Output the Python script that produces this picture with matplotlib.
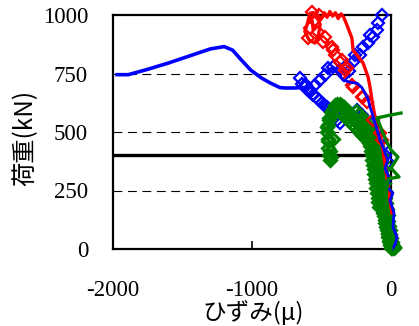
import matplotlib
matplotlib.use("Agg")
from matplotlib import pyplot as plt

plt.rcParams['axes.unicode_minus'] = False

# strain (micro) / load (kN)
blue_line_x = [-1970, -1890, -1750, -1600, -1450, -1300, -1200, -1140, -1080, -1010, -930, -870, -800, -760, -700, -640]
blue_line_y = [745, 745, 768, 795, 825, 855, 865, 850, 810, 765, 730, 710, 690, 688, 688, 690]

blue_line2_x = [-460, -417, -345, -290, -245, -210, -187, -165, -151, -130, -115, -95, -79, -60, -43, -22, -43, -25, -7, -29, 14, -7, 22, 14, 43, 30, 10]
blue_line2_y = [760, 778, 722, 712, 709, 690, 667, 640, 607, 570, 538, 500, 466, 440, 410, 380, 346, 320, 295, 265, 239, 209, 154, 94, 51, 20, 0]

blue_dia_x = [-370, -385, -400, -420, -440, -460, -480, -500, -520, -540, -560, -580, -600, -620, -640, -655, -610, -583, -547, -511, -475, -453, -417, -367, -317, -273, -223, -201, -165, -130, -101, -94, -65,
              -259, -151, -245, -209, -150, -110, -80, -60, -40, -20, -300, -340]
blue_dia_y = [538, 550, 565, 580, 594, 605, 615, 626, 637, 648, 660, 670, 680, 692, 705, 731, 700, 679, 701, 722, 744, 774, 778, 765, 786, 799, 829, 863, 880, 906, 936, 966, 1000,
              829, 915, 594, 573, 540, 510, 470, 440, 400, 370, 760, 745]

red_line_x = [7, -7, -25, -43, -65, -79, -101, -120, -137, -151, -165, -201, -245, -273, -281, -317, -340, -360, -380, -400, -420, -440, -460,
              -480, -500, -530, -560, -583, -604, -620, -590, -547, -520, -510, -540, -570, -560]
red_line_y = [154, 209, 290, 359, 453, 479, 521, 580, 637, 692, 735, 795, 829, 850, 901, 957, 990, 1005, 985, 1010, 995, 1015, 990,
              1010, 985, 1000, 1010, 1008, 957, 930, 893, 880, 920, 960, 1005, 985, 940]

red_dia_x = [-568, -547, -583, -525, -475, -489, -424, -403, -353, -317, -345, -281, -209, -173, -130, -79, -65, -417, -367, -331, -273, -201, -520, -600]
red_dia_y = [1013, 979, 944, 927, 906, 885, 863, 829, 808, 774, 752, 701, 650, 628, 551, 496, 466, 850, 799, 765, 692, 650, 1000, 900]

green_dia_x = [-439, -445, -450, -455, -460, -455, -445, -430, -420, -400, -385, -370, -355, -340, -325, -310, -295, -280, -265, -250, -235, -220, -205, -190, -175, -160, -145, -130, -115, -100, -90, -80,
               -430, -440, -450, -460, -445, -420,
               -125, -120, -115, -110, -105, -100, -95, -90, -85, -80, -75, -70, -65, -60, -55, -50, -45, -40, -35, -30, -25, -20, -15, -10, -5, 0,
               -95, -90, -85, -80, -75, -70, -65, -60, -55, -50, -45, -40, -35, -30, -25, -20, -15, -10, -5, 0, 5, 10,
               -70, -65, -60, -55, -50, -45, -40, -35, -30, -25, -20, -15, -10, -5, 0, 5, 10, 15, 20, 25,
               -200, -180, -160, -140, -120, -100, -250, -230, -210, -190, -170, -150, -130,
               -150, -145, -140, -135, -130, -125, -120, -115, -110, -105, -100, -95, -90, -85,
               -380, -360, -340, -320, -300, -280, -260, -240, -220, -200, -180, -160]
green_dia_y = [380, 400, 430, 460, 500, 530, 560, 585, 600, 615, 620, 620, 612, 605, 595, 585, 575, 565, 555, 545, 535, 525, 512, 500, 485, 470, 455, 440, 425, 410, 395, 380,
               395, 420, 470, 520, 550, 470,
               430, 410, 390, 370, 350, 330, 310, 290, 270, 250, 230, 210, 190, 170, 155, 140, 125, 110, 95, 80, 65, 50, 35, 25, 15, 5,
               420, 395, 370, 345, 320, 295, 270, 245, 220, 195, 170, 150, 130, 110, 90, 70, 55, 40, 28, 18, 10, 4,
               400, 370, 340, 310, 280, 250, 220, 195, 170, 145, 120, 100, 80, 62, 46, 32, 22, 14, 8, 3,
               560, 540, 515, 490, 465, 440, 590, 575, 555, 530, 505, 480, 455,
               440, 420, 400, 380, 360, 340, 320, 300, 280, 260, 240, 220, 200, 180,
               590, 580, 570, 558, 546, 534, 522, 510, 497, 483, 468, 452]

green_line_x = [0, -20, -40, -30, -20, 58, 0, 50, 0, -40, -101, 0, 72]
green_line_y = [0, 100, 200, 260, 300, 308, 346, 393, 423, 470, 560, 573, 581]

fig = plt.figure(figsize=(4.19, 3.26), dpi=100)
ax = fig.add_axes([113 / 419, 1 - 249 / 326, 278 / 419, 234 / 326])

for yv in [250, 500, 750]:
    ax.axhline(yv, color='black', lw=0.8, ls=(0, (8, 5)), zorder=1)
ax.axhline(400, color='black', lw=2.4, zorder=2)

mk = dict(ls='none', marker='D', ms=6.3, mfc='none', mew=1.6, clip_on=False)
ax.plot(blue_line_x, blue_line_y, color='#0000ff', lw=2.6, clip_on=False, zorder=3)
ax.plot(blue_dia_x, blue_dia_y, color='#0000ff', zorder=3, **mk)
ax.plot(green_dia_x, green_dia_y, color='#008000', zorder=4, **{**mk, 'mew': 2.2})
ax.plot(red_dia_x, red_dia_y, color='#ff0000', zorder=5, **mk)
ax.plot(red_line_x, red_line_y, color='#ff0000', lw=2.4, clip_on=False, zorder=5)
ax.plot(blue_line2_x, blue_line2_y, color='#0000ff', lw=2.0, clip_on=False, zorder=6)
ax.plot(green_line_x, green_line_y, color='#008000', lw=2.4, clip_on=False, zorder=6)

ax.set_xlim(-2000, 0)
ax.set_ylim(0, 1000)
ax.set_xticks([-2000, -1000, 0])
ax.set_yticks([0, 250, 500, 750, 1000])
for s in ax.spines.values():
    s.set_linewidth(1.6)
ax.tick_params(axis='x', direction='in', length=6, width=1.2, pad=22)
ax.tick_params(axis='y', direction='in', length=0, pad=18)
for lab in ax.get_xticklabels() + ax.get_yticklabels():
    lab.set_fontfamily('Liberation Serif')
    lab.set_fontsize(16.5)

fig.text(25 / 419, 1 - 138 / 326, '荷重(kN)', rotation=90, ha='center', va='center',
         fontsize=17.5, family=['Noto Sans CJK JP', 'DejaVu Sans'])
fig.text(253 / 419, 1 - 313 / 326, 'ひずみ(μ)', ha='center', va='center',
         fontsize=17, family=['Noto Sans CJK JP', 'DejaVu Sans'])

fig.savefig('out.png', dpi=100)
